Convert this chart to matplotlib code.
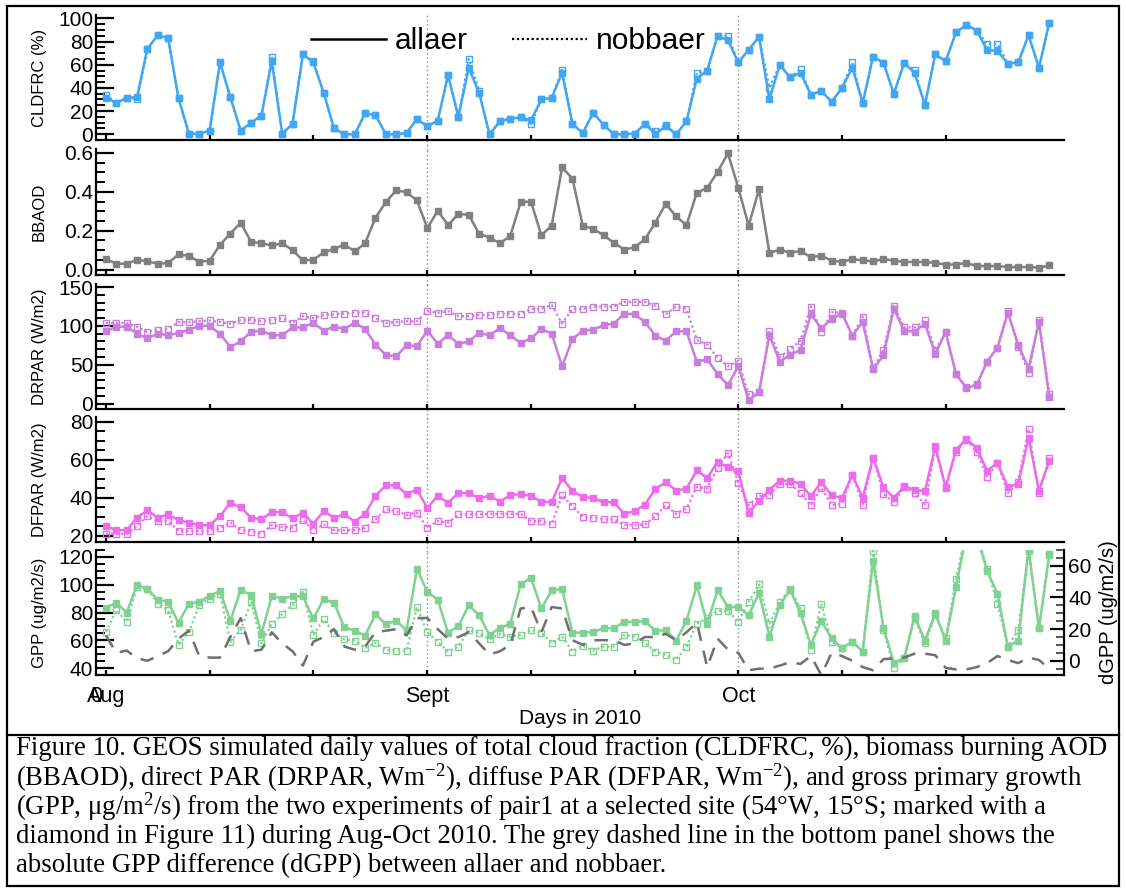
import numpy as np
import pandas as pd
import matplotlib
matplotlib.use("Agg")
import matplotlib.pyplot as plt
import matplotlib.dates as mdates
from matplotlib.ticker import MultipleLocator, FixedLocator
from matplotlib.lines import Line2D
from matplotlib.patches import Rectangle
from matplotlib.transforms import blended_transform_factory

plt.rcParams['font.family'] = ['Liberation Sans', 'DejaVu Sans']
plt.rcParams['mathtext.fontset'] = 'custom'
plt.rcParams['mathtext.rm'] = 'Liberation Serif'
plt.rcParams['mathtext.it'] = 'Liberation Serif:italic'
plt.rcParams['mathtext.bf'] = 'Liberation Serif:bold'

# ---------------- data ----------------
dates = pd.date_range('2010-08-01', '2010-10-31', freq='D')

cldfrc_allaer = [31.5, 27, 31.5, 32, 74, 85.5, 83, 31, 0.5, 0.5, 3, 62, 32, 3, 10, 16, 63, 0.5, 9, 69,
                 62, 36, 5, 0, 0, 18, 16.5, 0, 0, 1, 13, 7, 11.5, 51, 15, 57.5, 35.5, 0, 11, 13.5,
                 14.5, 12, 30, 31.5, 53, 9, 1, 18.6, 8, 0, 0, 0.5, 9, 0, 7, 0, 11, 48, 55, 85,
                 81, 62, 73, 84, 30, 60, 49, 53, 34, 37.5, 28, 40, 57.5, 27, 67, 61.6, 35, 61.6, 53, 25.5,
                 69, 63, 88, 94.5, 89.6, 72.6, 72, 61, 62, 85.5, 57.5, 96.4]
cldfrc_nobbaer = [34, 27, 31.5, 30, 74, 85.5, 83, 31, 0.5, 0.5, 3, 62, 32, 3, 10, 16, 67, 0.5, 9, 69,
                  63, 36, 5, 0, 0, 18, 16.5, 0, 0, 1, 13, 7, 11.5, 51, 15, 65, 37.5, 0, 11, 13.5,
                  14.5, 9, 30, 31.5, 55.6, 9, 1, 18.6, 8, 0, 0, 0.5, 9, 3, 8, 0, 11, 53, 55, 85,
                  85, 62, 73, 84, 40, 60, 49, 56, 34, 37.5, 28, 40, 62, 27, 67, 61.6, 35, 61.6, 55.6, 25.5,
                  69, 63, 88, 94.5, 89.6, 78, 78, 61, 62, 85.5, 57.5, 96.4]

bbaod = [0.055, 0.03, 0.03, 0.05, 0.042, 0.03, 0.033, 0.078, 0.07, 0.04, 0.045, 0.127, 0.185, 0.24, 0.143,
         0.135, 0.124, 0.135, 0.10, 0.047, 0.05, 0.088, 0.107, 0.128, 0.094, 0.135, 0.267, 0.346, 0.408,
         0.397, 0.356, 0.213, 0.302, 0.229, 0.286, 0.281, 0.184, 0.164, 0.135, 0.172, 0.346, 0.35, 0.176,
         0.226, 0.525, 0.468, 0.224, 0.21, 0.176, 0.138, 0.102, 0.115, 0.156, 0.242, 0.338, 0.273, 0.229,
         0.395, 0.42, 0.502, 0.598, 0.42, 0.226, 0.413, 0.086, 0.102, 0.086, 0.096, 0.063, 0.072, 0.046,
         0.039, 0.054, 0.047, 0.042, 0.054, 0.046, 0.039, 0.039, 0.039, 0.034, 0.026, 0.026, 0.034, 0.018,
         0.018, 0.018, 0.013, 0.013, 0.013, 0.01, 0.021]

drpar_allaer = [93, 99, 99, 90, 84, 90, 88, 91, 95, 100, 100, 90, 73, 80, 92.5, 94, 88, 88, 98, 98,
                104, 94, 99, 96, 104, 96, 76, 62.5, 61, 75, 74, 94, 77, 88, 77, 80, 91, 88, 97, 88,
                78, 84, 96, 90, 48, 83, 94, 95, 101, 103, 116, 115, 105, 87.5, 81, 93, 93, 54, 57, 38,
                24, 48, 4, 14.6, 88, 54, 63, 69, 115, 97, 109, 116, 87.5, 105, 44, 62, 122, 94, 92.5, 103,
                64, 92, 38, 20, 24, 54, 72, 117, 76, 45, 105, 8]
drpar_nobbaer = [104, 104, 104, 99, 92, 95, 96, 105, 105, 106, 107, 105, 103, 107.5, 108, 106, 107.5, 110, 104, 112.5,
                 110, 114, 115, 116, 117, 117, 110, 104, 105, 106, 106, 119, 117, 119, 112.5, 112.5, 114, 114, 116, 116,
                 115, 122, 122, 127, 103, 122, 122, 125, 125, 125, 131, 131, 131, 126, 115, 125, 122, 82, 76, 59,
                 48, 55, 11.7, 14.6, 94, 60, 70, 81, 125, 92, 117.5, 117, 87.5, 112, 46, 69, 126, 98, 98, 107.5,
                 69, 92, 38, 21, 25, 54, 72, 119, 73, 40, 108, 12.5]

dfpar_allaer = [25.2, 23, 23, 29.6, 33.4, 29.6, 31.3, 28.2, 27, 25.6, 25.6, 30.4, 37.4, 35, 29.6, 28.7, 32.5, 32.5, 29.2, 32.2,
                26.4, 33, 29.6, 31.3, 27.5, 31.6, 41, 46.6, 46.6, 42, 44.3, 34.8, 41, 37.4, 42.6, 42.6, 39.7, 41.2, 38, 41.4,
                42, 41, 38, 37.7, 50.4, 43.8, 40.3, 40, 37.7, 37.7, 31.6, 33, 36.5, 44.7, 48.3, 43.8, 44.9, 54.4, 50.4, 59,
                56, 54, 32.2, 38.3, 44.3, 49, 49, 47.3, 40.9, 48.3, 41.4, 39.7, 52.2, 40, 61.2, 45.6, 40, 46, 44.3, 43.5,
                67, 45.6, 65.2, 71, 66, 54.3, 58.3, 45.6, 47.3, 71.7, 43.8, 59.5]
dfpar_nobbaer = [20.9, 21, 21, 25.2, 30.4, 27.8, 27.8, 22.6, 22.6, 22.6, 22.6, 24, 27, 23, 22.3, 21.2, 25.7, 24.7, 24.3, 28.2,
                 23, 26, 23, 23, 23, 24.3, 28.7, 34, 33, 31, 32.2, 24.3, 27.8, 27, 31.3, 31.3, 31.3, 31.6, 31.6, 31.6,
                 31.6, 27.8, 27.8, 26, 41.4, 35.6, 30, 29.6, 28.7, 28.7, 25.7, 25.7, 26, 30.4, 36.2, 31.6, 34.4, 45.7, 44.9, 55.6,
                 63.5, 47.8, 36.2, 40.9, 41.4, 47.3, 47.3, 42.6, 36, 45.2, 36.2, 36.9, 52.2, 36.5, 61.2, 42, 37.7, 45.6, 42.6, 36.5,
                 66, 45.2, 64.3, 70.4, 64.3, 50.8, 58.3, 42.6, 48.3, 76.2, 42.6, 61.2]

gpp_allaer = [83.6, 87, 80, 100, 97, 89.3, 87.6, 72.6, 86.4, 87.6, 92, 95.5, 74, 96.4, 92.4, 64.5, 92, 90, 91.7, 91.7,
              75.7, 89.5, 87, 69.3, 66.9, 63.3, 78.8, 71.7, 74, 67.4, 111.4, 94.8, 89.3, 65.5, 70.2, 85.2, 78, 63.8, 69, 71.7,
              100.2, 105, 82.9, 96, 97, 65.5, 65.5, 66, 68.6, 68.6, 73.3, 73.3, 73.8, 66.7, 67.4, 59.8, 74, 99.5, 72, 96,
              84, 84, 78, 94, 62.6, 85.2, 96.4, 79.3, 56.7, 73.8, 61.4, 54.3, 59, 51.9, 117.4, 69, 44, 47, 77.4, 59.8,
              79.3, 59.8, 98.3, 137, 135, 110.2, 93.6, 55.5, 59.8, 126, 68.6, 121.7]
gpp_nobbaer = [66, 81.7, 73.3, 98.3, 97, 86.4, 81.7, 56.7, 66, 85.2, 90, 93.6, 59, 67.4, 87.6, 57.9, 71.7, 78.8, 85.2, 94.8,
               63.8, 75, 65.5, 60.7, 59.8, 54.3, 58.3, 53, 52.6, 52.6, 84, 65.7, 59, 51.9, 55.5, 67.4, 65, 60.7, 64.5, 62.6,
               63.8, 67.4, 65.5, 57.9, 62.6, 51.9, 56, 52.6, 55.5, 55.5, 63.8, 62.6, 57.9, 51.9, 49.5, 46, 55.5, 72, 76, 81.2,
               81.2, 73.3, 87.6, 100.2, 72, 87.6, 97, 82.9, 53, 86.4, 59, 54.3, 59, 51.9, 124.5, 67.4, 40, 47, 75.7, 57.9,
               78, 61.4, 104.3, 140, 138, 111.4, 86.4, 55.5, 67.4, 124, 68.6, 122]

dgpp = [16, 5, 6.5, 1.5, 0, 3, 6, 14, 19, 3, 2, 2, 15, 27, 6, 7, 18, 11, 6, -3,
        12, 15, 20, 9, 7, 9, 18, 19, 20, 16, 27, 27, 20, 14, 15, 18, 11, 4, 6, 10,
        33, 34, 18, 34, 33, 13, 10, 13, 13, 13, 10, 11, 15, 15, 17, 13, 18, 24, -4, 14,
        7, 5, -6, -5, -5, -3, -1, -2, 3, -9, 5, 3, 0, -4, -6, 1, 1.5, 2, 4.5, 4.5,
        3.5, -4.5, -5.5, -5.5, -4, -1.5, 3, 0.5, -1.5, 2, 0.5, -5]

tick_dates = pd.to_datetime(['2010-08-01', '2010-08-11', '2010-08-21', '2010-09-01', '2010-09-11',
                             '2010-09-21', '2010-10-01', '2010-10-11', '2010-10-21'])
tick_labels = ['Aug', '', '', 'Sept', '', '', 'Oct', '', '']
month_lines = pd.to_datetime(['2010-09-01', '2010-10-01'])
legend_labels = ['allaer', 'nobbaer']
caption_lines = [
    "Figure 10. GEOS simulated daily values of total cloud fraction (CLDFRC, %), biomass burning AOD",
    r"(BBAOD), direct PAR (DRPAR, Wm$^{\mathrm{-2}}$), diffuse PAR (DFPAR, Wm$^{\mathrm{-2}}$), and gross primary growth",
    r"(GPP, μg/m$^{\mathrm{2}}$/s) from the two experiments of pair1 at a selected site (54°W, 15°S; marked with a",
    "diamond in Figure 11) during Aug-Oct 2010. The grey dashed line in the bottom panel shows the",
    "absolute GPP difference (dGPP) between allaer and nobbaer.",
]

# ---------------- figure ----------------
W, H = 1126, 890
fig = plt.figure(figsize=(W / 100, H / 100), dpi=100)

def fx(px):
    return px / W

def fy(px):
    return 1 - px / H

left_px, right_px = 96, 1064
panels_px = [(15, 140), (149, 275), (284, 409), (417, 542), (550, 675)]
axes = []
for top, bot in panels_px:
    ax = fig.add_axes([fx(left_px), fy(bot), fx(right_px - left_px), (bot - top) / H])
    axes.append(ax)

xmin = pd.Timestamp('2010-07-31 01:00')
xmax = pd.Timestamp('2010-11-01 10:00')

c_cld = '#42A7F2'
c_bb = '#808080'
c_dr = '#C97EDD'
c_df = '#EC6CEE'
c_gpp = '#7FD291'
c_dg = '#707070'

def style_axis(ax, ylim, major, minor, fmt=None):
    ax.set_xlim(xmin, xmax)
    ax.set_ylim(*ylim)
    for s in ['top', 'right']:
        ax.spines[s].set_visible(False)
    for s in ['left', 'bottom']:
        ax.spines[s].set_linewidth(1.6)
    ax.yaxis.set_major_locator(MultipleLocator(major))
    ax.yaxis.set_minor_locator(MultipleLocator(minor))
    if fmt:
        ax.yaxis.set_major_formatter(fmt)
    ax.tick_params(axis='y', which='major', direction='in', length=13, width=1.6,
                   labelsize=15, pad=2)
    ax.tick_params(axis='y', which='minor', direction='in', length=6.5, width=1.4)
    ax.set_xticks(tick_dates)
    ax.set_xticklabels([])
    ax.tick_params(axis='x', which='major', direction='in', length=3.5, width=1.6)
    ax.xaxis.set_minor_locator(FixedLocator([]))
    ax.patch.set_visible(False)

def pair(ax, a, n, color):
    ax.plot(dates, n, linestyle=(0, (1, 1.3)), color=color, lw=1.6, marker='s', ms=5,
            mfc='none', mec=color, mew=1.0, zorder=3)
    ax.plot(dates, a, linestyle='-', color=color, lw=1.8, marker='s', ms=5,
            mfc=color, mec=color, zorder=4)

# CLDFRC
ax = axes[0]
pair(ax, cldfrc_allaer, cldfrc_nobbaer, c_cld)
style_axis(ax, (-5, 103), 20, 5)
ax.set_ylabel('CLDFRC (%)', fontsize=12)
h = [Line2D([], [], color='black', lw=1.8, ls='-'),
     Line2D([], [], color='black', lw=1.6, ls=(0, (1, 1.2)))]
ax.legend(h, legend_labels, loc='center', bbox_to_anchor=(0.426, 0.792), ncol=2, frameon=False,
          fontsize=21.5, handlelength=2.5, handletextpad=0.3, columnspacing=1.5, borderpad=0)

# BBAOD
ax = axes[1]
ax.plot(dates, bbaod, '-', color=c_bb, lw=1.8, marker='s', ms=5, mfc=c_bb, mec=c_bb)
style_axis(ax, (-0.028, 0.62), 0.2, 0.05, matplotlib.ticker.FormatStrFormatter('%.1f'))
ax.set_ylabel('BBAOD', fontsize=12)

# DRPAR
ax = axes[2]
pair(ax, drpar_allaer, drpar_nobbaer, c_dr)
style_axis(ax, (-7, 154), 50, 10)
ax.set_ylabel('DRPAR (W/m2)', fontsize=12)

# DFPAR
ax = axes[3]
pair(ax, dfpar_allaer, dfpar_nobbaer, c_df)
style_axis(ax, (16.8, 82.5), 20, 5)
ax.set_ylabel('DFPAR (W/m2)', fontsize=12)

# GPP
ax = axes[4]
pair(ax, gpp_allaer, gpp_nobbaer, c_gpp)
style_axis(ax, (35, 125), 20, 5)
ax.set_ylabel('GPP (ug/m2/s)', fontsize=12)
ax.set_xticklabels(tick_labels)
ax.tick_params(axis='x', labelsize=15.5, pad=8)
ax.set_xlabel('Days in 2010', fontsize=15, labelpad=1)
tr = blended_transform_factory(ax.transData, ax.transAxes)
ax.text(xmin, -0.17, '0', transform=tr, ha='center', va='center', fontsize=15.5)

axr = ax.twinx()
axr.set_position(ax.get_position())
axr.plot(dates, dgpp, linestyle=(0, (5.5, 4)), color=c_dg, lw=1.8)
axr.set_xlim(xmin, xmax)
axr.set_ylim(-9, 70)
for s in ['top', 'left', 'bottom']:
    axr.spines[s].set_visible(False)
axr.spines['right'].set_linewidth(1.6)
axr.yaxis.set_major_locator(MultipleLocator(20))
axr.yaxis.set_minor_locator(MultipleLocator(5))
axr.tick_params(axis='y', which='major', direction='in', length=10, width=1.6, labelsize=15, pad=3)
axr.tick_params(axis='y', which='minor', direction='in', length=6, width=1.4, color='#555555')
axr.set_ylabel('dGPP (ug/m2/s)', fontsize=14.5, labelpad=2)

for a in axes:
    a.yaxis.set_label_coords(-0.0506, 0.5)
axr.yaxis.set_label_coords(1.0365, 0.5)

# dotted month lines
for i, a in enumerate(axes):
    ymin = 0 if i == len(axes) - 1 else -0.08
    for d in month_lines:
        a.axvline(d, ymin=ymin, ymax=1, color='#8a8a8a', lw=1.0, ls=(0, (1, 2)), clip_on=False, zorder=1)

# border and caption
fig.add_artist(Rectangle((fx(7), fy(886)), fx(1119 - 7), (886 - 6) / H, transform=fig.transFigure,
                         fill=False, lw=1.6, ec='black'))
fig.add_artist(Line2D([fx(7), fx(1119)], [fy(735), fy(735)], transform=fig.transFigure, lw=1.6, color='black'))
for i, line in enumerate(caption_lines):
    fig.text(fx(16), fy(748 + 29.5 * i), line, fontsize=19.3, family='Liberation Serif',
             ha='left', va='center')

fig.savefig('out.png', dpi=100)
